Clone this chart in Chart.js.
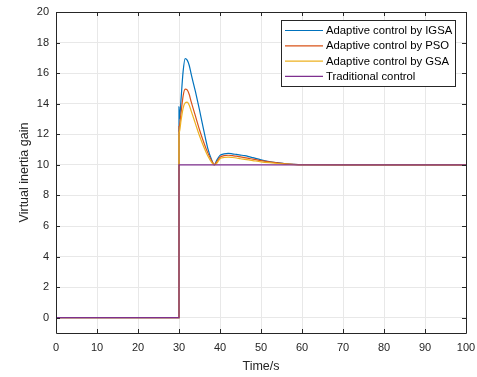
<!DOCTYPE html>
<html>
<head>
<meta charset="utf-8">
<script src="https://cdn.jsdelivr.net/npm/chart.js@4.4.1/dist/chart.umd.min.js"></script>
<style>
html,body{margin:0;padding:0;background:#fff;}
#wrap{width:477px;height:377px;position:relative;}
</style>
</head>
<body>
<div id="wrap"><canvas id="c" width="477" height="377"></canvas></div>
<script>
const time = [0, 30, 30, 30.15, 30.5, 31, 31.5, 32, 32.5, 33, 34, 35, 36, 37, 38, 38.6, 39.2, 40, 41, 42, 43, 44, 45, 46, 47, 48, 50, 52, 54, 56, 58, 60, 70, 80, 90, 100];
const igsa = [0,0,13.8,13.0,14.3,16.1,16.95,16.85,16.5,15.9,14.8,13.6,12.3,11.1,10.3,10.0,10.3,10.62,10.72,10.75,10.72,10.68,10.64,10.6,10.54,10.47,10.33,10.22,10.14,10.07,10.03,10.01,10,10,10,10];
const pso = [0,0,12.5,12.6,13.4,14.5,14.95,14.9,14.6,14.1,13.2,12.3,11.5,10.8,10.25,10.02,10.2,10.5,10.6,10.63,10.6,10.57,10.52,10.47,10.42,10.38,10.28,10.2,10.13,10.07,10.03,10.01,10,10,10,10];
const gsa = [0,0,12.1,12.2,12.9,13.7,14.05,14.1,13.9,13.5,12.7,11.9,11.2,10.6,10.15,10.0,10.1,10.4,10.48,10.5,10.48,10.45,10.4,10.36,10.32,10.28,10.2,10.14,10.09,10.05,10.02,10.0,10,10,10,10];
const traditional = [0,0,10,10,10,10,10,10,10,10,10,10,10,10,10,10,10,10,10,10,10,10,10,10,10,10,10,10,10,10,10,10,10,10,10,10];
const seriesNames = ['Adaptive control by IGSA','Adaptive control by PSO','Adaptive control by GSA','Traditional control'];
const xTicks = [0,10,20,30,40,50,60,70,80,90,100];
const yTicks = [0,2,4,6,8,10,12,14,16,18,20];

const colors = ['#0072BD','#D95319','#EDB120','#7E2F8E'];
const FONT = '"Liberation Sans", Arial, Helvetica, sans-serif';
const pts = arr => time.map((t,i)=>({x:t,y:arr[i]}));
const allSeries = [igsa,pso,gsa,traditional];

const framePlugin = {
  id:'frame',
  afterDraw(chart){
    const ctx = chart.ctx, a = chart.chartArea;
    const xs = chart.scales.x, ys = chart.scales.y;
    ctx.save();
    ctx.strokeStyle = '#262626';
    ctx.lineWidth = 1;
    ctx.beginPath();
    ctx.rect(Math.round(a.left)+0.5, Math.round(a.top)+0.5, Math.round(a.right-a.left), Math.round(a.bottom-a.top));
    ctx.stroke();
    ctx.beginPath();
    const tl = 4;
    xTicks.forEach(v=>{
      const px = Math.round(xs.getPixelForValue(v))+0.5;
      ctx.moveTo(px,a.bottom); ctx.lineTo(px,a.bottom-tl);
      ctx.moveTo(px,a.top); ctx.lineTo(px,a.top+tl);
    });
    yTicks.forEach(v=>{
      const py = Math.round(ys.getPixelForValue(v))+0.5;
      ctx.moveTo(a.left,py); ctx.lineTo(a.left+tl,py);
      ctx.moveTo(a.right,py); ctx.lineTo(a.right-tl,py);
    });
    ctx.stroke();
    // legend
    const lx = 281.5, ly = 20.5, lw = 174, lh = 66;
    ctx.fillStyle = '#fff';
    ctx.fillRect(lx,ly,lw,lh);
    ctx.strokeStyle = '#262626';
    ctx.strokeRect(lx,ly,lw,lh);
    ctx.font = '11.3px ' + FONT;
    ctx.textBaseline = 'middle';
    ctx.textAlign = 'left';
    chart.data.datasets.forEach((ds,i)=>{
      const y = 30.5 + i*15.3;
      ctx.strokeStyle = ds.borderColor;
      ctx.lineWidth = 1.2;
      ctx.beginPath(); ctx.moveTo(285,y); ctx.lineTo(323,y); ctx.stroke();
      ctx.fillStyle = '#000';
      ctx.fillText(ds.label, 326, y+0.5);
    });
    ctx.restore();
  }
};

new Chart(document.getElementById('c'), {
  type:'line',
  data:{
    datasets: allSeries.map((s,i)=>({
      label: seriesNames[i],
      data: pts(s),
      borderColor: colors[i],
      backgroundColor: colors[i],
      borderWidth: 1.2,
      pointRadius: 0,
      fill:false,
      cubicInterpolationMode:'monotone',
      order: 4-i
    }))
  },
  options:{
    responsive:false,
    animation:false,
    devicePixelRatio:1,
    layout:{padding:{top:12,right:11,left:0,bottom:0}},
    plugins:{legend:{display:false},tooltip:{enabled:false}},
    scales:{
      x:{
        type:'linear', min:0, max:100,
        afterBuildTicks: s => { s.ticks = xTicks.map(v=>({value:v})); },
        afterFit: s => { s.height = 44; s.paddingLeft = 0; s.paddingRight = 0; },
        grid:{color:'#E8E8E8', drawTicks:false, lineWidth:1},
        border:{display:false},
        ticks:{padding:8, color:'#262626', font:{family:FONT,size:11}, maxRotation:0, autoSkip:false},
        title:{display:true, text:'Time/s', color:'#262626', font:{family:FONT,size:12.5}, padding:{top:0,bottom:3}}
      },
      y:{
        type:'linear', min:-1, max:20,
        afterBuildTicks: s => { s.ticks = yTicks.map(v=>({value:v})); },
        afterFit: s => { s.width = 56; s.paddingTop = 0; s.paddingBottom = 0; },
        grid:{color:'#E8E8E8', drawTicks:false, lineWidth:1},
        border:{display:false},
        ticks:{padding:7, color:'#262626', font:{family:FONT,size:11}, autoSkip:false},
        title:{display:true, text:'Virtual inertia gain', color:'#262626', font:{family:FONT,size:12.5}, padding:{top:17,bottom:0}}
      }
    }
  },
  plugins:[framePlugin]
});
</script>
</body>
</html>
